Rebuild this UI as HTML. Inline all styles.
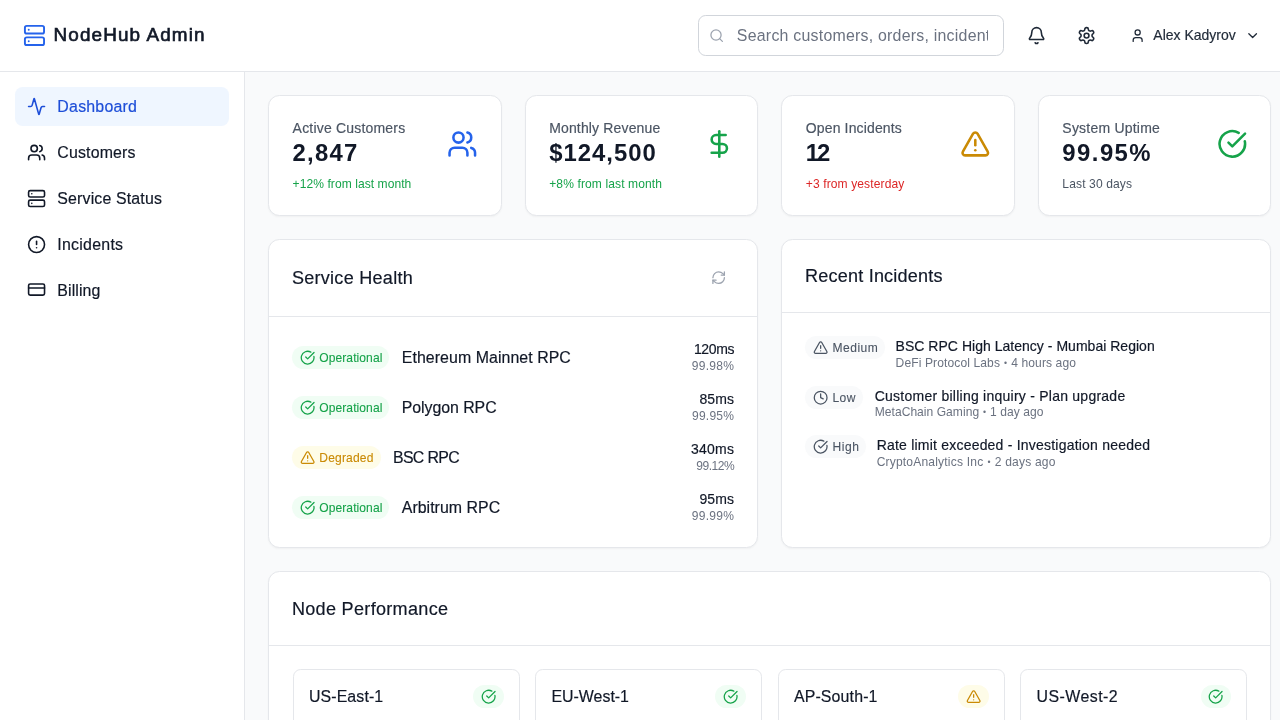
<!DOCTYPE html>
<html lang="en">
<head>
<meta charset="utf-8">
<title>NodeHub Admin</title>
<style>
html{font-size:15.31px}
*{box-sizing:border-box;margin:0;padding:0}
body{width:1280px;height:720px;overflow:hidden;background:#f9fafb;color:#111827;
  font-family:"Liberation Sans",Arial,sans-serif;font-size:1rem;line-height:1.5rem;position:relative}
svg{display:block;fill:none;stroke:currentColor;stroke-width:2;stroke-linecap:round;stroke-linejoin:round;flex:none}
.i16{width:1rem;height:1rem}
.i20{width:1.25rem;height:1.25rem}
.i24{width:1.5rem;height:1.5rem}
.i32{width:2rem;height:2rem;transform:translateY(.6px)}

/* header */
header{position:absolute;left:0;top:0;width:1280px;height:72px;background:#fff;border-bottom:1px solid #e5e7eb}
.logo{position:absolute;left:1.5rem;top:0;height:71px;display:flex;align-items:center;color:#2563eb}
.logo span{margin-left:.5rem;color:#111827;font-size:1.235rem;line-height:1.75rem;font-weight:400;-webkit-text-stroke:.65px #111827;white-space:nowrap}
.search{position:absolute;left:697.6px;top:15.3px;width:306.4px;height:40.3px;border:1px solid #d1d5db;border-radius:.5rem;background:#fff;
  padding:.5rem 1rem .5rem 2.5rem;color:#6b7280;font-size:1.04rem;line-height:1.5rem;white-space:nowrap;overflow:hidden}
.search span{display:block;overflow:hidden;white-space:nowrap}
.search svg{position:absolute;left:10.3px;top:50%;margin-top:-.5rem;color:#9ca3af}
.hbtn{position:absolute;top:0;height:71px;display:flex;align-items:center;color:#1f2937}
.user{position:absolute;top:0;height:71px;left:1130.4px;display:flex;align-items:center;color:#1f2937;font-size:.914rem;line-height:1.25rem;white-space:nowrap}
.user .nm{margin:0 calc(.5rem + 1.7px) 0 .5rem}

/* sidebar */
aside{position:absolute;left:0;top:72px;width:245px;height:648px;background:#fff;border-right:1px solid #e5e7eb;padding:1rem}
.nav{display:flex;align-items:center;height:2.5rem;padding:0 .75rem;border-radius:.5rem;margin-bottom:.5rem;color:#111827;font-size:1.04rem;line-height:1.5rem;white-space:nowrap}
.nav svg{margin-right:.75rem}
.nav span,.srow .nm,.node .h span.n,.search span{position:relative;top:1px}
.nav.on{background:#eff6ff;color:#1d4ed8}
.nav.on svg{color:#1d4ed8}

.nav span,.user .nm,.stat .lb,.ch h3,.badge span,.srow .nm,.srow .ms,.irow .tt,.node .h span.n{-webkit-text-stroke:.18px currentColor}
/* main */
main{position:absolute;left:245px;top:72px;width:1060px;padding:1.5rem}
.wrap{width:1003.4px}
.grid4{display:grid;grid-template-columns:repeat(4,1fr);gap:1.5rem}
.card{background:#fff;border:1px solid #e5e7eb;border-radius:.75rem;box-shadow:0 1px 2px rgba(0,0,0,.04)}
.stat{padding:1.5rem}
.stat .top{display:flex;align-items:center;justify-content:space-between}
.stat .top>div,.stat .sm{transform:translate(.7px,0)}
.stat .lb{font-size:.914rem;line-height:1.25rem;color:#4b5563;white-space:nowrap}
.stat .vl{font-size:1.56rem;line-height:2rem;font-weight:700;color:#111827;white-space:nowrap}
.stat .sm{position:relative;top:1px;margin-top:.5rem;font-size:.7875rem;line-height:1rem;white-space:nowrap}
.green{color:#16a34a}.red{color:#dc2626}.yellow{color:#ca8a04}.blue{color:#2563eb}.g600{color:#4b5563}

.row2{display:grid;grid-template-columns:repeat(4,1fr);gap:1.5rem;margin-top:1.5rem}
.ch{display:flex;align-items:center;justify-content:space-between;padding:1.5rem;border-bottom:1px solid #e5e7eb}
.ch h3{font-size:1.18rem;line-height:1.75rem;font-weight:400;color:#111827;white-space:nowrap}
.ch .rf{padding:.5rem;color:#9ca3af}
.cb{padding:1.5rem}
.srow{display:flex;align-items:center;justify-content:space-between;margin-bottom:calc(1rem + .25px)}
.srow:last-child{margin-bottom:0}
.srow .l{display:flex;align-items:center}
.badge{display:inline-flex;align-items:center;padding:.25rem .5rem;border-radius:9999px;font-size:.7875rem;line-height:1rem;white-space:nowrap}
.badge svg{margin-right:.25rem}
.b-g{background:#f0fdf4;color:#16a34a}
.b-y{background:#fefce8;color:#ca8a04}
.b-x{background:#f9fafb;color:#4b5563}
.srow .nm{margin-left:calc(.75rem + .8px);font-size:1.04rem;line-height:1.5rem;color:#111827;white-space:nowrap}
.srow .r{text-align:right}
.srow .ms{font-size:.914rem;line-height:1.25rem;color:#111827;white-space:nowrap}
.srow .pc{font-size:.7875rem;line-height:1rem;color:#6b7280;white-space:nowrap}
.irow{display:flex;align-items:flex-start;margin-bottom:calc(1rem - .15px)}
.irow .t{margin-left:calc(.75rem - 1.3px)}
.badge span,.irow .tt{position:relative;top:1px}
.badge span{left:.6px;top:1px;font-size:.7875rem;-webkit-text-stroke:.1px currentColor}
.irow .ts{position:relative;top:.5px}
.bu{line-height:0;font-size:.72em;position:relative;top:-.12em;margin:0 .55px}
.ch h3{position:relative;top:.6px}
.irow .tt{font-size:.914rem;line-height:1.25rem;color:#111827;white-space:nowrap}
.irow .ts{font-size:.7875rem;line-height:1rem;color:#6b7280;white-space:nowrap}
.np{margin-top:1.5rem}
.ngrid{margin-left:.7px;display:grid;grid-template-columns:repeat(4,1fr);gap:1rem}
.node{border:1px solid #e5e7eb;border-radius:.5rem;padding:1rem;height:200px;background:#fff}
.node .h{display:flex;align-items:center;justify-content:space-between}
.node .h span.n{font-size:1.04rem;line-height:1.5rem;color:#111827;white-space:nowrap}
.node .badge svg{margin-right:0}
</style>
</head>
<body>
<header>
  <div class="logo">
    <svg class="i24" viewBox="0 0 24 24"><rect width="20" height="8" x="2" y="2" rx="2" ry="2"/><rect width="20" height="8" x="2" y="14" rx="2" ry="2"/><line x1="6" x2="6.01" y1="6" y2="6"/><line x1="6" x2="6.01" y1="18" y2="18"/></svg>
    <span style="letter-spacing:1.12px">NodeHub Admin</span>
  </div>
  <div class="search">
    <svg class="i16" viewBox="0 0 24 24"><circle cx="11" cy="11" r="8"/><path d="m21 21-4.3-4.3"/></svg>
    <span style="letter-spacing:.23px">Search customers, orders, incidents...</span>
  </div>
  <div class="hbtn" style="left:1027.1px">
    <svg class="i20" viewBox="0 0 24 24"><path d="M10.268 21a2 2 0 0 0 3.464 0"/><path d="M3.262 15.326A1 1 0 0 0 4 17h16a1 1 0 0 0 .74-1.673C19.41 13.956 18 12.499 18 8A6 6 0 0 0 6 8c0 4.499-1.411 5.956-2.738 7.326"/></svg>
  </div>
  <div class="hbtn" style="left:1076.8px">
    <svg class="i20" viewBox="0 0 24 24"><path d="M12.22 2h-.44a2 2 0 0 0-2 2v.18a2 2 0 0 1-1 1.73l-.43.25a2 2 0 0 1-2 0l-.15-.08a2 2 0 0 0-2.73.73l-.22.38a2 2 0 0 0 .73 2.73l.15.1a2 2 0 0 1 1 1.72v.51a2 2 0 0 1-1 1.74l-.15.09a2 2 0 0 0-.73 2.73l.22.38a2 2 0 0 0 2.73.73l.15-.08a2 2 0 0 1 2 0l.43.25a2 2 0 0 1 1 1.73V20a2 2 0 0 0 2 2h.44a2 2 0 0 0 2-2v-.18a2 2 0 0 1 1-1.73l.43-.25a2 2 0 0 1 2 0l.15.08a2 2 0 0 0 2.73-.73l.22-.39a2 2 0 0 0-.73-2.73l-.15-.08a2 2 0 0 1-1-1.74v-.5a2 2 0 0 1 1-1.74l.15-.09a2 2 0 0 0 .73-2.73l-.22-.38a2 2 0 0 0-2.73-.73l-.15.08a2 2 0 0 1-2 0l-.43-.25a2 2 0 0 1-1-1.73V4a2 2 0 0 0-2-2z"/><circle cx="12" cy="12" r="3"/></svg>
  </div>
  <div class="user">
    <svg class="i16" viewBox="0 0 24 24"><path d="M19 21v-2a4 4 0 0 0-4-4H9a4 4 0 0 0-4 4v2"/><circle cx="12" cy="7" r="4"/></svg>
    <span class="nm" style="letter-spacing:0.00px">Alex Kadyrov</span>
    <svg class="i16" viewBox="0 0 24 24"><path d="m6 9 6 6 6-6"/></svg>
  </div>
</header>

<aside>
  <div class="nav on"><svg class="i20" viewBox="0 0 24 24"><path d="M22 12h-2.48a2 2 0 0 0-1.93 1.46l-2.35 8.36a.25.25 0 0 1-.48 0L9.24 2.18a.25.25 0 0 0-.48 0l-2.35 8.36A2 2 0 0 1 4.49 12H2"/></svg><span style="letter-spacing:0.22px">Dashboard</span></div>
  <div class="nav"><svg class="i20" viewBox="0 0 24 24"><path d="M16 21v-2a4 4 0 0 0-4-4H6a4 4 0 0 0-4 4v2"/><circle cx="9" cy="7" r="4"/><path d="M22 21v-2a4 4 0 0 0-3-3.87"/><path d="M16 3.13a4 4 0 0 1 0 7.75"/></svg><span style="letter-spacing:0.15px">Customers</span></div>
  <div class="nav"><svg class="i20" viewBox="0 0 24 24"><rect width="20" height="8" x="2" y="2" rx="2" ry="2"/><rect width="20" height="8" x="2" y="14" rx="2" ry="2"/><line x1="6" x2="6.01" y1="6" y2="6"/><line x1="6" x2="6.01" y1="18" y2="18"/></svg><span style="letter-spacing:0.15px">Service Status</span></div>
  <div class="nav"><svg class="i20" viewBox="0 0 24 24"><circle cx="12" cy="12" r="10"/><line x1="12" x2="12" y1="8" y2="12"/><line x1="12" x2="12.01" y1="16" y2="16"/></svg><span style="letter-spacing:0.25px">Incidents</span></div>
  <div class="nav"><svg class="i20" viewBox="0 0 24 24"><rect width="20" height="14" x="2" y="5" rx="2"/><line x1="2" x2="22" y1="10" y2="10"/></svg><span style="letter-spacing:0.09px">Billing</span></div>
</aside>

<main>
<div class="wrap">
  <div class="grid4">
    <div class="card stat">
      <div class="top"><div><p class="lb" style="letter-spacing:0.20px">Active Customers</p><p class="vl" style="letter-spacing:1.23px">2,847</p></div>
        <svg class="i32 blue" viewBox="0 0 24 24"><path d="M16 21v-2a4 4 0 0 0-4-4H6a4 4 0 0 0-4 4v2"/><circle cx="9" cy="7" r="4"/><path d="M22 21v-2a4 4 0 0 0-3-3.87"/><path d="M16 3.130a4 4 0 0 1 0 7.75"/></svg></div>
      <p class="sm green" style="letter-spacing:0.06px">+12% from last month</p>
    </div>
    <div class="card stat">
      <div class="top"><div><p class="lb" style="letter-spacing:0.16px">Monthly Revenue</p><p class="vl" style="letter-spacing:1.00px">$124,500</p></div>
        <svg class="i32 green" viewBox="0 0 24 24"><line x1="12" x2="12" y1="2" y2="22"/><path d="M17 5H9.5a3.5 3.5 0 0 0 0 7h5a3.5 3.5 0 0 1 0 7H6"/></svg></div>
      <p class="sm green" style="letter-spacing:0.11px">+8% from last month</p>
    </div>
    <div class="card stat">
      <div class="top"><div><p class="lb" style="letter-spacing:0.15px">Open Incidents</p><p class="vl" style="letter-spacing:-2.00px">12</p></div>
        <svg class="i32 yellow" viewBox="0 0 24 24"><path d="m21.73 18-8-14a2 2 0 0 0-3.48 0l-8 14A2 2 0 0 0 4 21h16a2 2 0 0 0 1.73-3Z"/><path d="M12 9v4"/><path d="M12 17h.01"/></svg></div>
      <p class="sm red" style="letter-spacing:0.11px">+3 from yesterday</p>
    </div>
    <div class="card stat">
      <div class="top"><div><p class="lb" style="letter-spacing:0.22px">System Uptime</p><p class="vl" style="letter-spacing:1.45px">99.95%</p></div>
        <svg class="i32 green" viewBox="0 0 24 24"><path d="M21.801 10A10 10 0 1 1 17 3.335"/><path d="m9 11 3 3L22 4"/></svg></div>
      <p class="sm g600" style="letter-spacing:0.12px">Last 30 days</p>
    </div>
  </div>

  <div class="row2">
    <div class="card" style="grid-column:span 2">
      <div class="ch"><h3 style="letter-spacing:0.27px">Service Health</h3>
        <div class="rf"><svg class="i16" viewBox="0 0 24 24"><path d="M3 12a9 9 0 0 1 9-9 9.75 9.75 0 0 1 6.74 2.740L21 8"/><path d="M21 3v5h-5"/><path d="M21 12a9 9 0 0 1-9 9 9.75 9.75 0 0 1-6.74-2.740L3 16"/><path d="M8 16H3v5"/></svg></div>
      </div>
      <div class="cb">
        <div class="srow"><div class="l"><span class="badge b-g"><svg class="i16" viewBox="0 0 24 24"><path d="M21.801 10A10 10 0 1 1 17 3.335"/><path d="m9 11 3 3L22 4"/></svg><span style="letter-spacing:0.08px">Operational</span></span><span class="nm" style="letter-spacing:0.06px">Ethereum Mainnet RPC</span></div>
          <div class="r"><p class="ms" style="letter-spacing:-0.34px">120ms</p><p class="pc" style="letter-spacing:0.28px">99.98%</p></div></div>
        <div class="srow"><div class="l"><span class="badge b-g"><svg class="i16" viewBox="0 0 24 24"><path d="M21.801 10A10 10 0 1 1 17 3.335"/><path d="m9 11 3 3L22 4"/></svg><span style="letter-spacing:0.08px">Operational</span></span><span class="nm" style="letter-spacing:-0.06px">Polygon RPC</span></div>
          <div class="r"><p class="ms" style="letter-spacing:0.16px">85ms</p><p class="pc" style="letter-spacing:0.22px">99.95%</p></div></div>
        <div class="srow"><div class="l"><span class="badge b-y"><svg class="i16" viewBox="0 0 24 24"><path d="m21.73 18-8-14a2 2 0 0 0-3.48 0l-8 14A2 2 0 0 0 4 21h16a2 2 0 0 0 1.73-3Z"/><path d="M12 9v4"/><path d="M12 17h.01"/></svg><span style="letter-spacing:0.18px">Degraded</span></span><span class="nm" style="letter-spacing:-0.66px">BSC RPC</span></div>
          <div class="r"><p class="ms" style="letter-spacing:0.25px">340ms</p><p class="pc" style="letter-spacing:-0.48px">99.12%</p></div></div>
        <div class="srow"><div class="l"><span class="badge b-g"><svg class="i16" viewBox="0 0 24 24"><path d="M21.801 10A10 10 0 1 1 17 3.335"/><path d="m9 11 3 3L22 4"/></svg><span style="letter-spacing:0.08px">Operational</span></span><span class="nm" style="letter-spacing:0.03px">Arbitrum RPC</span></div>
          <div class="r"><p class="ms" style="letter-spacing:0.15px">95ms</p><p class="pc" style="letter-spacing:0.28px">99.99%</p></div></div>
      </div>
    </div>
    <div class="card" style="grid-column:span 2">
      <div class="ch"><h3 style="letter-spacing:0.20px">Recent Incidents</h3></div>
      <div class="cb">
        <div class="irow"><span class="badge b-x"><svg class="i16" viewBox="0 0 24 24"><path d="m21.73 18-8-14a2 2 0 0 0-3.48 0l-8 14A2 2 0 0 0 4 21h16a2 2 0 0 0 1.73-3Z"/><path d="M12 9v4"/><path d="M12 17h.01"/></svg><span style="letter-spacing:0.52px">Medium</span></span>
          <div class="t"><p class="tt" style="letter-spacing:0.03px">BSC RPC High Latency - Mumbai Region</p><p class="ts" style="letter-spacing:0.11px">DeFi Protocol Labs <span class="bu">•</span> 4 hours ago</p></div></div>
        <div class="irow"><span class="badge b-x"><svg class="i16" viewBox="0 0 24 24"><circle cx="12" cy="12" r="10"/><polyline points="12 6 12 12 16 14"/></svg><span style="letter-spacing:0.45px">Low</span></span>
          <div class="t" style="margin-left:calc(.75rem + .3px)"><p class="tt" style="letter-spacing:0.25px">Customer billing inquiry - Plan upgrade</p><p class="ts" style="letter-spacing:0.04px">MetaChain Gaming <span class="bu">•</span> 1 day ago</p></div></div>
        <div class="irow"><span class="badge b-x"><svg class="i16" viewBox="0 0 24 24"><path d="M21.801 10A10 10 0 1 1 17 3.335"/><path d="m9 11 3 3L22 4"/></svg><span style="letter-spacing:0.55px">High</span></span>
          <div class="t"><p class="tt" style="letter-spacing:0.22px">Rate limit exceeded - Investigation needed</p><p class="ts" style="letter-spacing:0.19px">CryptoAnalytics Inc <span class="bu">•</span> 2 days ago</p></div></div>
      </div>
    </div>
  </div>

  <div class="card np">
    <div class="ch"><h3 style="letter-spacing:0.31px">Node Performance</h3></div>
    <div class="cb"><div class="ngrid">
        <div class="node"><div class="h"><span class="n" style="letter-spacing:0.12px">US-East-1</span><span class="badge b-g"><svg class="i16" viewBox="0 0 24 24"><path d="M21.801 10A10 10 0 1 1 17 3.335"/><path d="m9 11 3 3L22 4"/></svg></span></div></div>
        <div class="node"><div class="h"><span class="n" style="letter-spacing:0.01px">EU-West-1</span><span class="badge b-g"><svg class="i16" viewBox="0 0 24 24"><path d="M21.801 10A10 10 0 1 1 17 3.335"/><path d="m9 11 3 3L22 4"/></svg></span></div></div>
        <div class="node"><div class="h"><span class="n" style="letter-spacing:0.14px">AP-South-1</span><span class="badge b-y"><svg class="i16" viewBox="0 0 24 24"><path d="m21.73 18-8-14a2 2 0 0 0-3.48 0l-8 14A2 2 0 0 0 4 21h16a2 2 0 0 0 1.73-3Z"/><path d="M12 9v4"/><path d="M12 17h.01"/></svg></span></div></div>
        <div class="node"><div class="h"><span class="n" style="letter-spacing:0.47px">US-West-2</span><span class="badge b-g"><svg class="i16" viewBox="0 0 24 24"><path d="M21.801 10A10 10 0 1 1 17 3.335"/><path d="m9 11 3 3L22 4"/></svg></span></div></div>
      </div></div>
  </div>
</div>
</main>
</body>
</html>
